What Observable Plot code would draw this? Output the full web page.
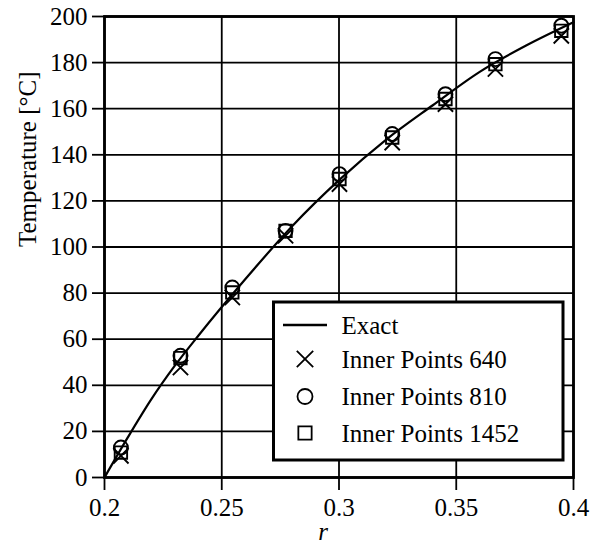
<!DOCTYPE html>
<html>
<head>
<meta charset="utf-8">
<script src="https://cdn.jsdelivr.net/npm/d3@7"></script>
<script src="https://cdn.jsdelivr.net/npm/@observablehq/plot@0.6"></script>
<style>
  html, body { margin: 0; padding: 0; background: white; }
  #chart { position: relative; width: 601px; height: 549px; }
  #chart svg, #chart svg text { font-family: "Liberation Serif", "Times New Roman", Tinos, "DejaVu Serif", serif !important; }
</style>
</head>
<body>
<div id="chart"></div>
<script>
// ---- data ----
const xTicks = [0.2, 0.25, 0.3, 0.35, 0.4];
const yTicks = [0, 20, 40, 60, 80, 100, 120, 140, 160, 180, 200];

const exactR = [0.20, 0.21, 0.22, 0.23, 0.24, 0.26, 0.28, 0.30, 0.32, 0.34, 0.36, 0.38, 0.40];
const exactT = [0, 17.5, 34, 48.5, 61.5, 86, 109, 129, 146.5, 161.5, 176, 187.5, 197.5];

const pointR = [0.207, 0.2324, 0.2545, 0.2772, 0.3002, 0.3227, 0.3454, 0.3667, 0.3948];
const t640   = [9.4, 47.7, 78.1, 104.9, 127.3, 145.3, 162.0, 177.2, 191.6];
const t810   = [13.0, 52.8, 82.4, 107.0, 131.6, 149.0, 166.3, 181.5, 196.0];
const t1452  = [10.8, 51.8, 80.3, 107.0, 129.5, 147.5, 164.2, 179.3, 193.8];

const seriesNames = ["Exact", "Inner Points 640", "Inner Points 810", "Inner Points 1452"];
const xLabel = "r";
const yLabel = "Temperature [°C]";

// ---- tables ----
const exact = exactR.map((r, i) => ({r, t: exactT[i]}));
const p640 = pointR.map((r, i) => ({r, t: t640[i]}));
const p810 = pointR.map((r, i) => ({r, t: t810[i]}));
const p1452 = pointR.map((r, i) => ({r, t: t1452[i]}));

const font = '"Liberation Serif", "Times New Roman", Tinos, "DejaVu Serif", serif';

const chart = Plot.plot({
  width: 601,
  height: 549,
  marginLeft: 104,
  marginRight: 28,
  marginTop: 16,
  marginBottom: 72,
  style: {fontFamily: font, fontSize: "25px", color: "black", background: "white"},
  x: {domain: [0.2, 0.4]},
  y: {domain: [0, 200]},
  marks: [
    Plot.gridX(xTicks, {stroke: "black", strokeOpacity: 1, strokeWidth: 1.8}),
    Plot.gridY(yTicks, {stroke: "black", strokeOpacity: 1, strokeWidth: 1.8}),
    Plot.axisX(xTicks, {tickSize: 13, tickPadding: 8, strokeWidth: 1.8, fontSize: 25, label: null, tickFormat: d => String(d)}),
    Plot.axisY(yTicks, {tickSize: 12, tickPadding: 5, strokeWidth: 1.8, fontSize: 25, label: null}),
    Plot.frame({stroke: "black", strokeWidth: 2.8}),
    Plot.line(exact, {x: "r", y: "t", curve: "monotone-x", stroke: "black", strokeWidth: 2.2}),
    Plot.dot(p640, {x: "r", y: "t", symbol: "times", r: 7, stroke: "black", strokeWidth: 1.9}),
    Plot.dot(p810, {x: "r", y: "t", symbol: "circle", r: 7, stroke: "black", strokeWidth: 1.9}),
    Plot.dot(p1452, {x: "r", y: "t", symbol: "square", r: 7, stroke: "black", strokeWidth: 1.9}),
    Plot.text([xLabel], {frameAnchor: "bottom", dx: -16, dy: 62, fontStyle: "italic", fontSize: 25, fill: "black"}),
    Plot.text([yLabel], {frameAnchor: "left", rotate: -90, dx: -77, fontSize: 25, fill: "black"})
  ]
});

document.getElementById("chart").appendChild(chart);

// ---- legend (inside the frame, bottom right) ----
const svg = d3.select(chart);
const lg = svg.append("g").attr("transform", "translate(273.5,302)");
lg.append("rect")
  .attr("x", 0).attr("y", 0).attr("width", 289.5).attr("height", 158)
  .attr("fill", "white").attr("stroke", "black").attr("stroke-width", 3);
const rowY = [23, 57, 94.5, 131];
const symX = 31.5;
const textX = 68;
const symbols = [null, d3.symbolTimes, d3.symbolCircle, d3.symbolSquare];
seriesNames.forEach((name, i) => {
  const y = rowY[i];
  if (i === 0) {
    lg.append("line").attr("x1", symX - 22).attr("x2", symX + 22)
      .attr("y1", y).attr("y2", y).attr("stroke", "black").attr("stroke-width", 2.5);
  } else {
    lg.append("path")
      .attr("d", d3.symbol(symbols[i], Math.PI * 7.5 * 7.5)())
      .attr("transform", `translate(${symX},${y})`)
      .attr("fill", "none").attr("stroke", "black").attr("stroke-width", 1.8);
  }
  lg.append("text")
    .attr("x", textX).attr("y", y).attr("dy", "0.35em")
    .attr("text-anchor", "start")
    .style("font-family", font).style("font-size", "25px").attr("fill", "black")
    .text(name);
});
</script>
</body>
</html>
